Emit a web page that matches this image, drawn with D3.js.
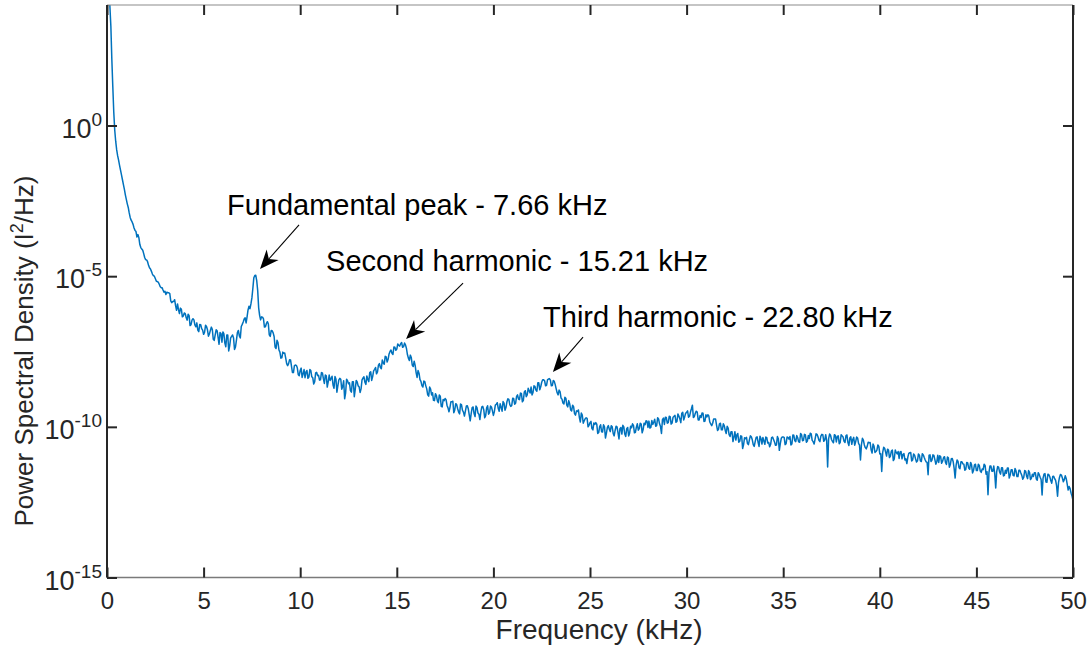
<!DOCTYPE html>
<html><head><meta charset="utf-8">
<script src="https://cdn.jsdelivr.net/npm/d3@7"></script>
<style>
body{margin:0;background:#fff}
svg{display:block}
text{font-family:"Liberation Sans",Arial,Helvetica,sans-serif;fill:#262626}
</style>
</head><body>
<svg id="chart" width="1091" height="646"></svg>
<script>
// ---------------- data ----------------
// log10 of PSD (I^2/Hz).
// Bins at 0.1, 0.2, ... 50.0 kHz
const binStartKHz = 0.1, binStepKHz = 0.1;
const psdLog10 = [
 4.8, 3.3, 1.3, -0.15, -0.8, -1.15, -1.48, -1.8, -2.12, -2.45,
 -2.72, -3.05, -3.2, -3.4, -3.52, -3.62, -3.95, -4.1, -4.25, -4.45,
 -4.52, -4.72, -4.84, -4.98, -5.08, -5.18, -5.26, -5.38, -5.46, -5.5,
 -5.53, -5.55, -5.82, -5.84, -5.78, -6.13, -6.11, -6.06, -6.35, -6.22,
 -6.38, -6.26, -6.64, -6.46, -6.45, -6.68, -6.79, -6.6, -6.74, -6.93,
 -6.63, -6.78, -6.92, -6.69, -7.09, -6.95, -6.81, -7.26, -6.9, -6.85,
 -7.22, -6.95, -7.48, -7.05, -6.95, -7.43, -7.12, -6.8, -7.05, -6.6,
 -6.42, -6.55, -6.12, -6.08, -5.72, -5.05, -4.97, -5.48, -6.3, -6.35,
 -6.42, -6.68, -6.51, -6.95, -6.8, -6.88, -7.35, -7.13, -7.45, -7.72,
 -7.52, -7.55, -7.9, -7.9, -7.78, -8.2, -7.97, -7.96, -8.27, -8.13,
 -8.36, -8.1, -8.18, -8.39, -8.1, -8.34, -8.58, -8.21, -8.3, -8.45,
 -8.2, -8.4, -8.28, -8.68, -8.28, -8.4, -8.61, -8.33, -8.85, -8.44,
 -8.42, -8.66, -9.07, -8.42, -8.57, -8.8, -8.5, -9.0, -8.46, -8.64,
 -8.86, -8.44, -8.34, -8.59, -8.43, -8.2, -8.46, -8.14, -8.03, -8.18,
 -7.9, -8.07, -7.88, -7.66, -7.85, -7.58, -7.45, -7.6, -7.36, -7.42,
 -7.3, -7.24, -7.36, -7.22, -7.4, -7.72, -7.62, -7.95, -7.82, -8.2,
 -8.13, -8.43, -8.63, -8.48, -8.64, -8.94, -8.68, -8.94, -9.12, -8.9,
 -9.14, -8.94, -9.32, -9.09, -9.06, -9.29, -9.5, -9.17, -9.15, -9.44,
 -9.26, -9.51, -9.24, -9.45, -9.64, -9.31, -9.4, -9.8, -9.36, -9.56,
 -9.31, -9.54, -9.76, -9.34, -9.43, -9.63, -9.3, -9.53, -9.34, -9.62,
 -9.28, -9.2, -9.48, -9.35, -9.16, -9.45, -9.17, -9.09, -9.32, -9.05,
 -9.25, -8.99, -9.08, -8.88, -9.17, -8.84, -9.0, -8.72, -8.88, -8.94,
 -8.64, -8.78, -8.54, -8.77, -8.52, -8.44, -8.64, -8.44, -8.4, -8.64,
 -8.46, -8.6, -8.87, -8.78, -9.04, -9.21, -9.02, -9.28, -9.13, -9.44,
 -9.28, -9.56, -9.47, -9.44, -9.84, -9.61, -9.8, -9.7, -10.0, -9.86,
 -10.06, -9.87, -9.86, -10.22, -9.99, -10.16, -9.93, -10.37, -10.02, -10.08,
 -9.96, -10.22, -10.12, -10.0, -10.4, -10.02, -9.95, -10.24, -10.06, -10.3,
 -9.98, -9.9, -10.2, -10.01, -10.11, -9.88, -10.2, -9.88, -9.8, -10.02,
 -10.04, -9.79, -9.84, -9.98, -9.7, -9.9, -10.22, -9.71, -9.68, -9.88,
 -9.65, -9.91, -9.68, -9.62, -9.82, -9.64, -9.86, -9.52, -9.67, -9.52,
 -9.68, -9.51, -9.28, -9.66, -9.48, -9.77, -9.62, -9.54, -9.82, -9.6,
 -9.6, -9.84, -9.96, -9.74, -9.74, -10.12, -9.9, -10.1, -9.9, -10.12,
 -9.98, -10.26, -10.16, -10.49, -10.16, -10.27, -10.51, -10.3, -10.72, -10.36,
 -10.35, -10.59, -10.3, -10.43, -10.65, -10.35, -10.51, -10.31, -10.57, -10.47,
 -10.34, -10.54, -10.66, -10.36, -10.42, -10.61, -10.32, -10.78, -10.38, -10.34,
 -10.59, -10.34, -10.41, -10.6, -10.27, -10.46, -10.29, -10.5, -10.22, -10.46,
 -10.25, -10.51, -10.29, -10.21, -10.45, -10.57, -10.23, -10.33, -10.49, -10.25,
 -10.48, -10.26, -11.33, -10.24, -10.42, -10.53, -10.28, -10.32, -10.56, -10.26,
 -10.34, -10.52, -10.27, -10.62, -10.33, -10.42, -10.61, -10.34, -10.55, -11.1,
 -10.38, -10.6, -10.73, -10.51, -10.52, -10.87, -10.64, -10.82, -10.6, -10.9,
 -11.48, -10.68, -10.84, -10.74, -11.02, -10.8, -11.12, -10.77, -10.9, -11.05,
 -10.82, -10.91, -11.1, -11.22, -10.88, -10.85, -11.1, -10.94, -11.17, -10.9,
 -11.13, -10.89, -11.02, -11.16, -11.59, -10.93, -11.1, -10.95, -11.24, -10.94,
 -10.96, -11.21, -11.02, -11.18, -11.0, -11.34, -11.06, -11.16, -11.7, -11.1,
 -11.36, -11.16, -11.23, -11.44, -11.18, -11.37, -11.18, -11.53, -11.26, -11.45,
 -11.24, -11.47, -11.4, -11.24, -11.57, -12.25, -11.3, -11.47, -11.3, -12.03,
 -11.32, -11.5, -11.36, -11.63, -11.44, -11.37, -11.7, -11.42, -11.61, -11.38,
 -11.65, -11.44, -11.53, -11.74, -11.45, -11.64, -11.45, -11.75, -11.57, -11.52,
 -11.73, -11.52, -11.67, -12.26, -11.57, -11.83, -11.57, -11.66, -11.87, -11.64,
 -11.78, -12.3, -11.68, -11.6, -11.82, -11.62, -11.9, -11.98, -12.2, -12.45
];
// In-between bins at 0.15, 0.25, ... 49.95 kHz
const midStartKHz = 0.15, midStepKHz = 0.1;
const psdLog10Mid = [
 3.95, 2.2, 0.45, -0.52, -1.0, -1.32, -1.64, -1.96, -2.3,
 -2.6, -2.9, -3.14, -3.28, -3.48, -3.7, -3.72, -4.05, -4.14, -4.38,
 -4.46, -4.64, -4.76, -4.93, -5.0, -5.16, -5.2, -5.34, -5.38, -5.53,
 -5.61, -5.55, -5.58, -5.88, -5.84, -5.98, -5.92, -6.24, -6.1, -6.32,
 -6.24, -6.46, -6.31, -6.61, -6.41, -6.62, -6.55, -6.84, -6.61, -6.79,
 -6.86, -6.67, -6.99, -6.8, -6.76, -7.13, -6.78, -7.03, -6.87, -7.19,
 -6.91, -7.34, -6.95, -7.31, -7.0, -7.05, -7.35, -6.87, -6.98, -6.67,
 -6.52, -6.38, -6.35, -6.0, -5.92, -5.4, -4.98, -5.15, -6.05, -6.45,
 -6.36, -6.69, -6.57, -6.58, -7.0, -6.81, -7.0, -7.4, -7.2, -7.52,
 -7.71, -7.56, -7.72, -7.97, -7.77, -7.99, -8.2, -7.95, -8.04, -8.3,
 -8.05, -8.24, -8.37, -8.13, -8.35, -8.13, -8.37, -8.5, -8.19, -8.29,
 -8.44, -8.21, -8.56, -8.31, -8.51, -8.46, -8.32, -8.72, -8.41, -8.63,
 -8.39, -8.75, -8.47, -8.88, -8.47, -8.54, -8.85, -8.5, -8.75, -8.51,
 -8.67, -8.74, -8.38, -8.52, -8.31, -8.5, -8.17, -8.33, -8.09, -8.24,
 -7.95, -8.03, -7.78, -7.92, -7.68, -7.76, -7.5, -7.56, -7.35, -7.46,
 -7.25, -7.32, -7.2, -7.34, -7.28, -7.6, -7.8, -7.7, -8.0, -7.96,
 -8.36, -8.22, -8.49, -8.68, -8.5, -8.74, -8.98, -8.75, -8.87, -9.13,
 -8.96, -9.2, -8.98, -9.34, -9.13, -9.1, -9.37, -9.36, -9.17, -9.53,
 -9.23, -9.4, -9.57, -9.27, -9.51, -9.48, -9.3, -9.6, -9.56, -9.34,
 -9.66, -9.36, -9.58, -9.51, -9.32, -9.7, -9.37, -9.58, -9.31, -9.47,
 -9.49, -9.25, -9.39, -9.23, -9.48, -9.21, -9.36, -9.07, -9.26, -9.29,
 -9.06, -9.21, -8.94, -9.1, -8.89, -9.12, -8.8, -8.94, -8.8, -8.68,
 -8.86, -8.66, -8.82, -8.54, -8.67, -8.44, -8.47, -8.62, -8.41, -8.45,
 -8.63, -8.49, -8.74, -8.94, -8.83, -9.08, -9.24, -9.05, -9.34, -9.24,
 -9.47, -9.33, -9.61, -9.49, -9.69, -9.54, -9.88, -9.73, -9.72, -9.95,
 -9.82, -10.1, -9.92, -9.91, -10.19, -9.93, -10.17, -10.0, -10.21, -9.96,
 -10.16, -10.0, -10.3, -9.98, -10.2, -10.06, -10.24, -10.0, -10.32, -10.02,
 -10.21, -10.03, -9.95, -10.18, -9.9, -10.06, -9.91, -10.09, -9.93, -9.81,
 -9.81, -10.02, -9.92, -9.75, -9.96, -9.74, -9.99, -9.76, -9.92, -9.69,
 -9.86, -9.66, -9.87, -9.65, -9.85, -9.57, -9.73, -9.55, -9.77, -9.55,
 -9.47, -9.65, -9.4, -9.69, -9.55, -9.51, -9.77, -9.69, -9.55, -9.81,
 -9.67, -9.64, -9.9, -9.88, -9.74, -9.94, -10.08, -9.88, -10.1, -9.96,
 -10.22, -10.04, -10.32, -10.16, -10.34, -10.44, -10.22, -10.48, -10.31, -10.59,
 -10.39, -10.55, -10.43, -10.33, -10.59, -10.49, -10.33, -10.65, -10.39, -10.35,
 -10.58, -10.36, -10.52, -10.58, -10.34, -10.5, -10.6, -10.4, -10.56, -10.34,
 -10.35, -10.56, -10.35, -10.32, -10.57, -10.28, -10.49, -10.36, -10.51, -10.26,
 -10.45, -10.27, -10.47, -10.39, -10.23, -10.49, -10.41, -10.25, -10.45, -10.31,
 -10.26, -10.44, -10.45, -10.4, -10.28, -10.48, -10.26, -10.5, -10.3, -10.52,
 -10.3, -10.48, -10.29, -10.52, -10.37, -10.58, -10.35, -10.5, -10.37, -10.61,
 -10.59, -10.44, -10.69, -10.64, -10.53, -10.76, -10.57, -10.85, -10.77, -10.65,
 -10.89, -10.85, -10.71, -10.97, -10.77, -10.97, -10.77, -11.06, -10.85, -10.82,
 -10.83, -11.06, -10.89, -11.06, -11.01, -10.86, -11.13, -10.9, -11.06, -11.13,
 -10.94, -11.15, -10.93, -11.1, -11.18, -10.94, -11.15, -10.93, -11.09, -11.16,
 -11.18, -10.99, -11.14, -10.99, -11.25, -11.03, -11.25, -11.05, -11.39, -11.27,
 -11.15, -11.39, -11.16, -11.24, -11.41, -11.2, -11.41, -11.26, -11.45, -11.24,
 -11.45, -11.28, -11.51, -11.42, -11.28, -11.49, -11.52, -11.3, -11.47, -11.56,
 -11.49, -11.34, -11.57, -11.36, -11.61, -11.54, -11.37, -11.6, -11.42, -11.63,
 -11.46, -11.65, -11.44, -11.61, -11.68, -11.47, -11.72, -11.51, -11.7, -11.65,
 -11.52, -11.77, -11.58, -11.75, -11.7, -11.55, -11.84, -11.59, -11.78, -11.65,
 -11.72, -11.95, -11.85, -11.58, -11.7, -11.75, -11.72, -12.1, -12.05, -12.3
];
const xTickValues = [0, 5, 10, 15, 20, 25, 30, 35, 40, 45, 50];
const yTickExponents = [0, -5, -10, -15];
const annotationTexts = ["Fundamental peak - 7.66 kHz", "Second harmonic - 15.21 kHz", "Third harmonic - 22.80 kHz"];
const xLabel = "Frequency (kHz)";

// ---------------- layout ----------------
const svg = d3.select("#chart");
const L = 107, R = 1073, T = 5, B = 577.5;
const x = d3.scaleLinear().domain([0, 50]).range([L, R]);
const y = d3.scaleLog().domain([1e-15, 1e4]).range([B, T]);

const points = psdLog10.map((v, i) => ({ f: binStartKHz + i * binStepKHz, p: Math.pow(10, v) }))
  .concat(psdLog10Mid.map((v, i) => ({ f: midStartKHz + i * midStepKHz, p: Math.pow(10, v) })))
  .sort((a, b) => a.f - b.f);

svg.append("defs").append("clipPath").attr("id", "plotClip")
  .append("rect").attr("x", L).attr("y", T).attr("width", R - L).attr("height", B - T);

// data line
svg.append("path").datum(points)
  .attr("clip-path", "url(#plotClip)")
  .attr("fill", "none").attr("stroke", "#0072BD").attr("stroke-width", 1.5)
  .attr("stroke-linejoin", "round")
  .attr("d", d3.line().x(d => x(d.f)).y(d => y(d.p)));

// axes box
const axisCol = "#262626";
svg.append("line").attr("x1", L).attr("x2", R).attr("y1", T).attr("y2", T).attr("stroke", "#8c8c8c").attr("stroke-width", 1.2);
svg.append("line").attr("x1", L).attr("x2", R).attr("y1", B).attr("y2", B).attr("stroke", "#7a7a7a").attr("stroke-width", 1.4);
svg.append("line").attr("x1", L).attr("x2", L).attr("y1", T).attr("y2", B).attr("stroke", axisCol).attr("stroke-width", 2);
svg.append("line").attr("x1", R).attr("x2", R).attr("y1", T).attr("y2", B).attr("stroke", axisCol).attr("stroke-width", 2);

const tickLen = 10;
// x ticks (bottom + top, inward)
const xAxisB = d3.axisBottom(x).tickValues(xTickValues).tickSizeInner(-tickLen).tickSizeOuter(0).tickFormat(d3.format("d"));
const gxb = svg.append("g").attr("transform", `translate(0,${B})`).call(xAxisB);
gxb.select(".domain").remove();
gxb.selectAll(".tick line").attr("stroke", axisCol).attr("stroke-width", 2);
gxb.selectAll(".tick text").attr("font-size", 24).attr("fill", "#262626")
  .attr("font-family", "'Liberation Sans',Arial,sans-serif").attr("y", 609 - B).attr("dy", 0);
const xAxisT = d3.axisTop(x).tickValues(xTickValues).tickSizeInner(-tickLen).tickSizeOuter(0).tickFormat("");
const gxt = svg.append("g").attr("transform", `translate(0,${T})`).call(xAxisT);
gxt.select(".domain").remove();
gxt.selectAll(".tick line").attr("stroke", axisCol).attr("stroke-width", 2);

// y ticks (left + right, inward)
const yTickVals = yTickExponents.map(e => Math.pow(10, e));
const yAxisL = d3.axisLeft(y).tickValues(yTickVals).tickSizeInner(-tickLen).tickSizeOuter(0).tickFormat("");
const gyl = svg.append("g").attr("transform", `translate(${L},0)`).call(yAxisL);
gyl.select(".domain").remove();
gyl.selectAll(".tick line").attr("stroke", axisCol).attr("stroke-width", 2);
const yAxisR = d3.axisRight(y).tickValues(yTickVals).tickSizeInner(-tickLen).tickSizeOuter(0).tickFormat("");
const gyr = svg.append("g").attr("transform", `translate(${R},0)`).call(yAxisR);
gyr.select(".domain").remove();
gyr.selectAll(".tick line").attr("stroke", axisCol).attr("stroke-width", 2);

// y tick labels 10^e
yTickExponents.forEach(e => {
  const t = svg.append("text").attr("x", L - 5).attr("y", y(Math.pow(10, e)) + 12)
    .attr("text-anchor", "end").attr("font-size", 27);
  t.append("tspan").text("10");
  t.append("tspan").attr("dy", -12).attr("font-size", 19).text(String(e));
});

// axis labels
svg.append("text").attr("x", 599).attr("y", 639).attr("text-anchor", "middle")
  .attr("font-size", 28).text(xLabel);
const yl = svg.append("text").attr("transform", "translate(33,351) rotate(-90)")
  .attr("text-anchor", "middle").attr("font-size", 26);
yl.append("tspan").text("Power Spectral Density (I");
yl.append("tspan").attr("dy", -10).attr("font-size", 18).text("2");
yl.append("tspan").attr("dy", 10).text("/Hz)");

// annotations: text anchor, arrow tail and arrow tip in data coordinates (kHz, log10 PSD)
const annText = [[6.21, -2.97], [11.34, -4.83], [22.57, -6.69]];
const annTail = [[9.94, -3.30], [18.43, -5.23], [24.64, -7.02]];
const annTip = [[7.92, -4.76], [15.48, -7.085], [23.08, -8.18]];
annotationTexts.forEach((s, i) => {
  svg.append("text").attr("x", x(annText[i][0])).attr("y", y(Math.pow(10, annText[i][1])))
    .attr("font-size", 29).style("fill", "#000").text(s);
  const x0 = x(annTail[i][0]), y0 = y(Math.pow(10, annTail[i][1]));
  const x1 = x(annTip[i][0]), y1 = y(Math.pow(10, annTip[i][1]));
  const ang = Math.atan2(y1 - y0, x1 - x0);
  const hl = 19, hw = 8;
  const ux = Math.cos(ang), uy = Math.sin(ang), px = -uy, py = ux;
  const bx = x1 - ux * hl, by = y1 - uy * hl;
  const nx = x1 - ux * hl * 0.7, ny = y1 - uy * hl * 0.7;
  svg.append("line").attr("x1", x0).attr("y1", y0).attr("x2", nx).attr("y2", ny)
    .attr("stroke", "#000").attr("stroke-width", 1.1);
  svg.append("path").attr("d", `M${x1},${y1}L${bx + px * hw},${by + py * hw}L${nx},${ny}L${bx - px * hw},${by - py * hw}Z`)
    .attr("fill", "#000");
});
</script>
</body></html>
